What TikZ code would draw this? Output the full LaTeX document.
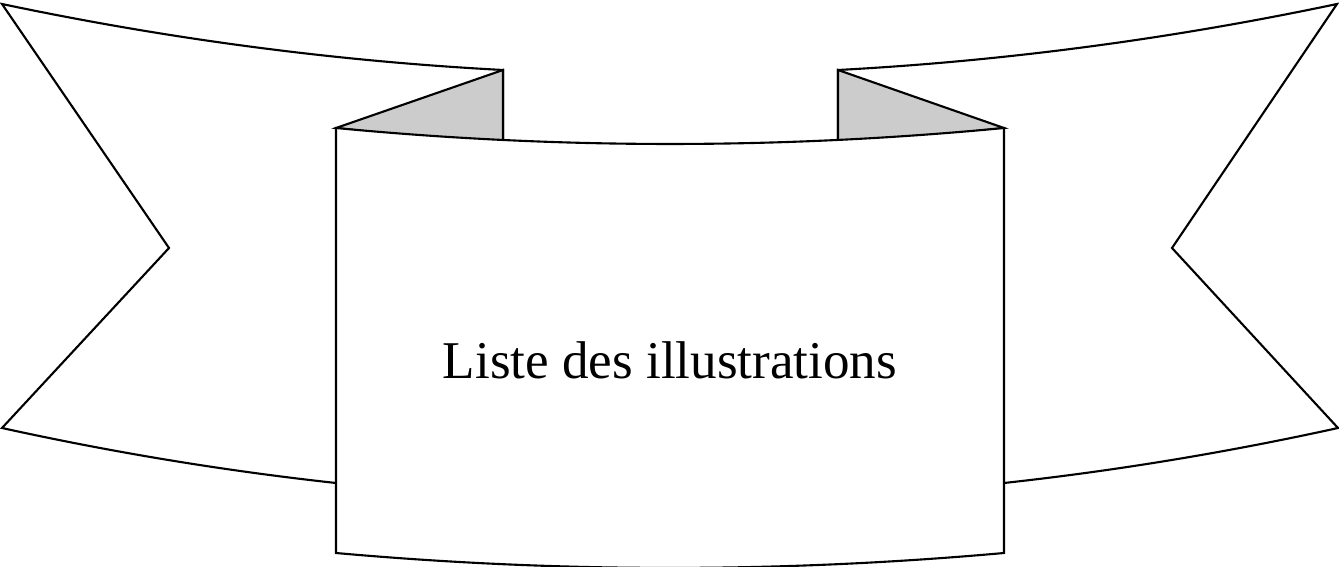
\documentclass[tikz,border=0pt]{standalone}
\usepackage{fontspec}
\setmainfont{Liberation Serif}
\usepackage{tikz}
\usetikzlibrary{calc}
\usetikzlibrary{positioning}

\begin{document}
\begin{tikzpicture}[x=0.01cm,y=-0.01cm,line width=0.6pt,line join=miter]
            \useasboundingbox (0,0) rectangle (1339,567);
            \clip (0,0) rectangle (1339,567);

            \coordinate (LT) at (2,4);
            \coordinate (LN) at (169,248);
            \coordinate (LB) at (2,428);
            \coordinate (LF) at (503,70);
            \coordinate (RT) at (1337,4);
            \coordinate (RN) at (1172,248);
            \coordinate (RB) at (1338,428);
            \coordinate (RF) at (838,70);
            \coordinate (A) at (336,128);
            \coordinate (B) at (1004,128);
            \coordinate (C) at (1004,553);
            \coordinate (D) at (336,553);

            % tails
            \draw[fill=white] (LT) .. controls (169,39.2) and (336,61.2) .. (LF) -- (503,300) -- (336,483)
                .. controls (224.7,470.8) and (113.3,452.5) .. (LB) -- (LN) -- cycle;
            \draw[fill=white] (RT) .. controls (1170,39.2) and (1003,61.2) .. (RF) -- (838,300) -- (1004,483)
                .. controls (1115.3,470.8) and (1226.7,452.5) .. (RB) -- (RN) -- cycle;

            % folds
            \draw[fill=black!20] (A) -- (LF) -- (503,146) -- cycle;
            \draw[fill=black!20] (B) -- (RF) -- (838,146) -- cycle;

            % front panel
            \draw[fill=white] (A) .. controls (558.7,149.3) and (781.3,149.3) .. (B) -- (C)
                .. controls (781.3,572.9) and (558.7,572.9) .. (D) -- cycle;

            \node (title) at (670,360) {\fontsize{15.1}{18}\selectfont Liste des illustrations};
        \end{tikzpicture}
\end{document}
